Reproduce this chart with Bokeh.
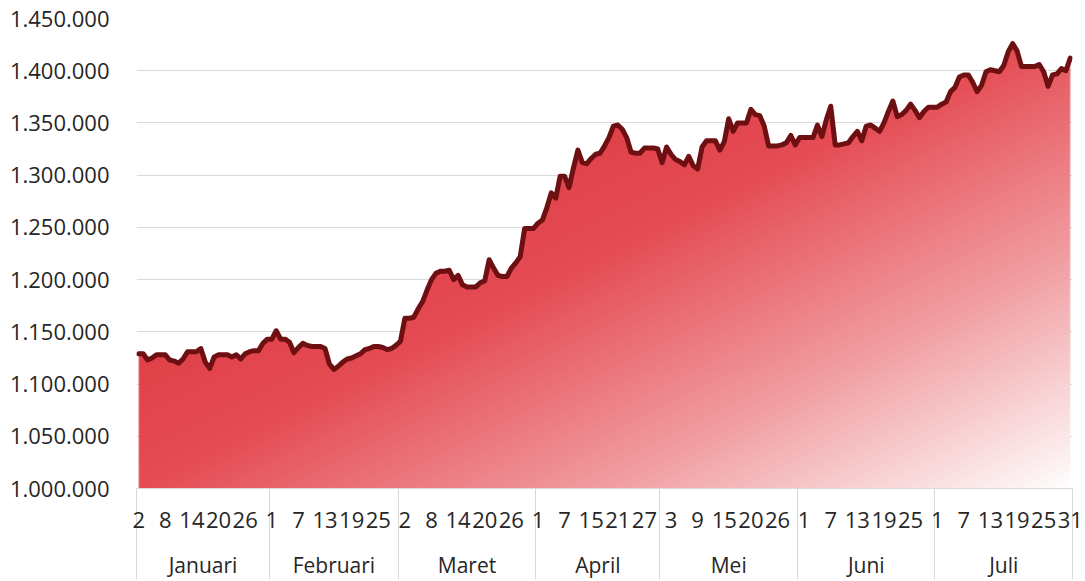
import numpy as np
from bokeh.plotting import figure
from bokeh.models import Range1d, FixedTicker, LinearAxis, Grid
from bokeh.embed import file_html
from bokeh.resources import INLINE

# ---------------- data ----------------
prices = [
    1129000, 1129000, 1123000, 1125000, 1128000, 1128000, 1128000, 1123000, 1122000, 1120000,
    1124000, 1131000, 1131000, 1131000, 1134000, 1121000, 1115000, 1126000, 1128000, 1128000,
    1128000, 1126000, 1128000, 1124000, 1129000, 1131000, 1132000, 1132000, 1139000, 1143000,
    1143000, 1151000, 1143000, 1143000, 1140000, 1130000, 1135000, 1139000, 1137000, 1136000,
    1136000, 1136000, 1134000, 1119000, 1114000, 1117000, 1121000, 1124000, 1125000, 1127000,
    1129000, 1133000, 1134000, 1136000, 1136000, 1135000, 1133000, 1134000, 1137000, 1141000,
    1163000, 1163000, 1164000, 1172000, 1179000, 1190000, 1200000, 1206000, 1208000, 1208000,
    1209000, 1200000, 1204000, 1195000, 1193000, 1193000, 1193000, 1197000, 1199000, 1219000,
    1211000, 1204000, 1203000, 1203000, 1211000, 1216000, 1222000, 1249000, 1249000, 1249000,
    1254000, 1257000, 1269000, 1283000, 1278000, 1299000, 1299000, 1288000, 1307000, 1324000,
    1312000, 1311000, 1316000, 1320000, 1321000, 1328000, 1336000, 1347000, 1348000, 1344000,
    1336000, 1322000, 1321000, 1321000, 1326000, 1326000, 1326000, 1325000, 1312000, 1327000,
    1320000, 1315000, 1313000, 1310000, 1318000, 1309000, 1306000, 1327000, 1333000, 1333000,
    1333000, 1324000, 1332000, 1354000, 1342000, 1350000, 1350000, 1350000, 1363000, 1358000,
    1357000, 1347000, 1328000, 1328000, 1328000, 1329000, 1331000, 1338000, 1329000, 1336000,
    1336000, 1336000, 1336000, 1348000, 1337000, 1353000, 1366000, 1329000, 1329000, 1330000,
    1331000, 1337000, 1342000, 1333000, 1347000, 1348000, 1345000, 1342000, 1350000, 1361000,
    1371000, 1356000, 1358000, 1362000, 1368000, 1362000, 1355000, 1361000, 1365000, 1365000,
    1365000, 1368000, 1370000, 1380000, 1384000, 1394000, 1396000, 1396000, 1389000, 1380000,
    1386000, 1399000, 1401000, 1400000, 1399000, 1405000, 1418000, 1426000, 1419000, 1404000,
    1404000, 1404000, 1404000, 1406000, 1399000, 1385000, 1396000, 1397000, 1402000, 1400000,
    1412000,
]

day_labels = ["2", "8", "14", "20", "26",
              "1", "7", "13", "19", "25",
              "2", "8", "14", "20", "26",
              "1", "7", "15", "21", "27",
              "3", "9", "15", "20", "26",
              "1", "7", "13", "19", "25",
              "1", "7", "13", "19", "25", "31"]
label_step = 6

month_names = ["Januari", "Februari", "Maret", "April", "Mei", "Juni", "Juli"]
month_sizes = [30, 29, 31, 28, 31, 31, 31]

y_ticks = [1000000, 1050000, 1100000, 1150000, 1200000,
           1250000, 1300000, 1350000, 1400000, 1450000]

# ---------------- style ----------------
FONT = "Open Sans"
TEXT_COLOR = "#262626"
GRID_COLOR = "#D9D9D9"
LINE_COLOR = "#6E0F12"
BOTTOM = 91

n = len(prices)
xs = np.arange(n)
x0, x1 = -0.5, n - 0.5
y0, y1 = y_ticks[0], y_ticks[-1]

p = figure(width=1085, height=581,
           x_range=Range1d(x0, x1), y_range=Range1d(y0, y1),
           x_axis_type=None, y_axis_type=None,
           output_backend="svg", toolbar_location=None,
           min_border_left=136, min_border_right=13,
           min_border_top=18, min_border_bottom=BOTTOM)
p.outline_line_color = None
p.background_fill_color = "white"
p.border_fill_color = "white"

# y axis
yaxis = LinearAxis(ticker=FixedTicker(ticks=y_ticks))
yaxis.major_label_overrides = {v: f"{v:,}".replace(",", ".") for v in y_ticks}
yaxis.axis_line_color = None
yaxis.major_tick_line_color = None
yaxis.minor_tick_line_color = None
yaxis.major_tick_out = 0
yaxis.major_label_standoff = 27
yaxis.major_label_text_font = FONT
yaxis.major_label_text_font_size = "22px"
yaxis.major_label_text_color = TEXT_COLOR
p.add_layout(yaxis, "left")

grid = Grid(dimension=1, ticker=FixedTicker(ticks=y_ticks))
grid.grid_line_color = GRID_COLOR
grid.grid_line_width = 1
p.add_layout(grid)

# month boundaries
starts = np.concatenate([[0], np.cumsum(month_sizes)[:-1]])
bounds = [x0 + 0.02] + [float(s) - 0.5 for s in starts[1:]] + [x1 - 0.02]
centers = [float(s) + sz / 2.0 - 0.5 for s, sz in zip(starts, month_sizes)]

# day axis (minor ticks draw the month separators)
day_ticks = list(range(0, n, label_step))
xaxis = LinearAxis(ticker=FixedTicker(ticks=day_ticks, minor_ticks=bounds))
xaxis.major_label_overrides = {t: lab for t, lab in zip(day_ticks, day_labels)}
xaxis.axis_line_color = GRID_COLOR
xaxis.major_tick_line_color = None
xaxis.major_tick_out = 0
xaxis.major_tick_in = 0
xaxis.minor_tick_line_color = GRID_COLOR
xaxis.minor_tick_out = BOTTOM
xaxis.minor_tick_in = 0
xaxis.major_label_standoff = -68
xaxis.major_label_text_font = FONT
xaxis.major_label_text_font_size = "22px"
xaxis.major_label_text_color = TEXT_COLOR
p.add_layout(xaxis, "below")

maxis = LinearAxis(ticker=FixedTicker(ticks=centers))
maxis.major_label_overrides = {c: m for c, m in zip(centers, month_names)}
maxis.axis_line_color = None
maxis.major_tick_line_color = None
maxis.minor_tick_line_color = None
maxis.major_tick_out = 0
maxis.major_label_standoff = 20
maxis.major_label_text_font = FONT
maxis.major_label_text_font_size = "21px"
maxis.major_label_text_color = TEXT_COLOR
p.add_layout(maxis, "below")

# gradient-filled area (image masked by the price line)
cols, rows = 936, 472
xc = x0 + (np.arange(cols) + 0.5) * (x1 - x0) / cols
yc = y0 + (np.arange(rows) + 0.5) * (y1 - y0) / rows
line_at = np.interp(xc, xs, prices)
py = (y1 - y0) / rows
px = (x1 - x0) / cols
cover = np.clip((line_at[None, :] - yc[:, None]) / py + 0.5, 0, 1)
hmask = np.clip((xc - 0) / px + 0.5, 0, 1) * np.clip(((n - 1) - xc) / px + 0.5, 0, 1)
cover = cover * hmask[None, :]

u = (np.arange(cols) + 0.5) / cols
v = 1.0 - (np.arange(rows) + 0.5) / rows
t = (u[None, :] + v[:, None]) / 2.0
stops_t = [0.0, 0.3, 0.5, 0.75, 1.0]
stops_c = [(214, 46, 54), (222, 60, 68), (229, 76, 84), (241, 158, 162), (255, 255, 255)]
rgb = np.zeros((rows, cols, 3))
for k in range(3):
    rgb[:, :, k] = np.interp(t, stops_t, [c[k] for c in stops_c])
img = np.zeros((rows, cols, 4), dtype=np.uint8)
img[:, :, :3] = np.clip(rgb, 0, 255).astype(np.uint8)
img[:, :, 3] = (cover * 255).astype(np.uint8)
p.image_rgba(image=[img.view(np.uint32).reshape(rows, cols)], x=x0, y=y0,
             dw=x1 - x0, dh=y1 - y0)

p.line(xs, prices, line_color=LINE_COLOR, line_width=5,
       line_join="round", line_cap="round")

open("out.html", "w").write(file_html(p, INLINE))
